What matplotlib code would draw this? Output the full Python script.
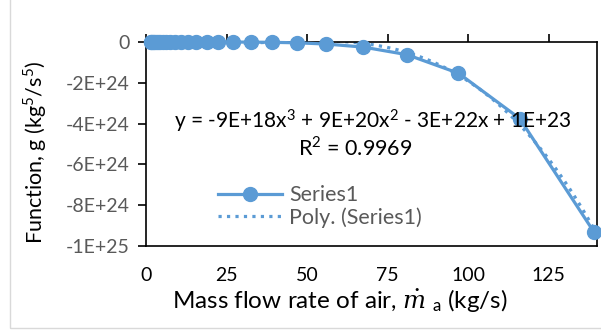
import numpy as np
import matplotlib.pyplot as plt
from matplotlib.patches import Rectangle

# data
mass_flow = [1.5, 1.7, 2.1, 2.5, 3.0, 3.6, 4.4, 5.2, 6.3, 7.5, 9.0, 10.8, 13.0,
             15.6, 19.0, 22.5, 27.0, 32.5, 39.0, 47.0, 56.0, 67.5, 81.0, 97.0,
             116.0, 139.0]
func_g = [0.0, 0.0, 0.0, 0.0, 0.0, 0.0, 0.0, 0.0, 0.0, 0.0, 0.0, 0.0, -0.00007e24,
          -0.0002e24, -0.0004e24, -0.001e24, -0.0026e24, -0.0065e24, -0.016e24,
          -0.04e24, -0.1e24, -0.25e24, -0.62e24, -1.53e24, -3.75e24, -9.3e24]

x_ticks = [0, 25, 50, 75, 100, 125]
y_ticks = [0, -2e24, -4e24, -6e24, -8e24, -1e25]
y_tick_labels = ['0', '-2E+24', '-4E+24', '-6E+24', '-8E+24', '-1E+25']

blue = '#5B9BD5'
grey = '#595959'
plt.rcParams['font.family'] = ['Lato', 'DejaVu Sans']
plt.rcParams['mathtext.fontset'] = 'custom'
plt.rcParams['mathtext.rm'] = 'Lato'
plt.rcParams['mathtext.it'] = 'DejaVu Serif:italic'

fig = plt.figure(figsize=(6.01, 3.31), dpi=100)
fig.patches.append(Rectangle((10 / 601, 3 / 331), 1.0, 1.0, transform=fig.transFigure,
                             fill=False, edgecolor='#d9d9d9', lw=1))
ax = fig.add_axes([146 / 601, 85 / 331, 451 / 601, 204 / 331])

ax.plot(mass_flow, func_g, '-o', color=blue, lw=2.3, ms=10, label='Series1',
        clip_on=False, zorder=3)

# 3rd order polynomial trendline
coef = np.polyfit(mass_flow, func_g, 3)
xs = np.linspace(min(mass_flow), max(mass_flow), 300)
ax.plot(xs, np.polyval(coef, xs), ':', color=blue, lw=2.3, label='Poly. (Series1)',
        zorder=2)

ax.set_xlim(0, 140)
ax.set_ylim(-1e25, 0)
ax.set_xticks(x_ticks)
ax.set_xticklabels([str(t) for t in x_ticks])
ax.set_yticks(y_ticks)
ax.set_yticklabels(y_tick_labels)
ax.tick_params(axis='x', top=True, bottom=False, labeltop=False, labelbottom=True,
               direction='out', length=6, width=1.2, colors='black',
               labelcolor='black', labelsize=14, pad=9)
ax.tick_params(axis='y', direction='out', length=6, width=1.2, labelcolor=grey,
               labelsize=14, pad=6)
for s in ax.spines.values():
    s.set_color('black')
    s.set_linewidth(1.2)

ax.set_xlabel(r'Mass flow rate of air, $\dot{m}\;_{\mathrm{a}}$ (kg/s)', fontsize=17.5)
ax.xaxis.set_label_coords(0.43, -0.2)
ax.set_ylabel('Function, g (kg$^5$/s$^5$)', fontsize=15.5)
ax.yaxis.set_label_coords(-0.215, 0.46)

ax.text(0.503, 0.61, 'y = -9E+18x$^3$ + 9E+20x$^2$ - 3E+22x + 1E+23',
        transform=ax.transAxes, ha='center', va='center', fontsize=15)
ax.text(0.465, 0.485, 'R$^2$ = 0.9969', transform=ax.transAxes,
        ha='center', va='center', fontsize=15.5)

leg = ax.legend(loc='upper left', bbox_to_anchor=(0.14, 0.34), frameon=False,
                fontsize=15.5, handlelength=3.0, handletextpad=0.3,
                labelspacing=0.1, borderaxespad=0)
for t in leg.get_texts():
    t.set_color(grey)

fig.savefig('out.png', dpi=100)
